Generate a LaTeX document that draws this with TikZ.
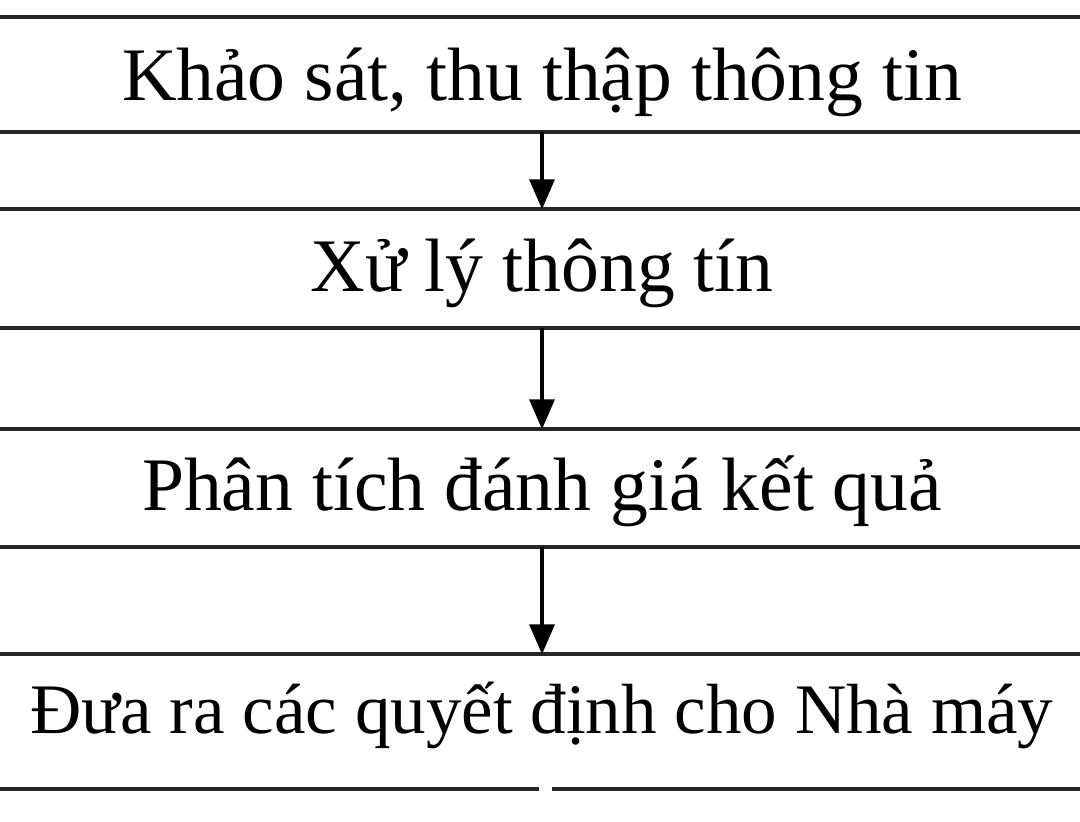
\documentclass[tikz,border=0pt]{standalone}
\usepackage{fontspec}
\setmainfont{Liberation Serif}
\usetikzlibrary{arrows.meta}
\begin{document}
\begin{tikzpicture}[x=0.01cm,y=-0.01cm, % one unit = one pixel of the reference
  stage/.style={minimum width=10.9cm, inner sep=0pt, text depth=0pt,
                font=\fontsize{21.5}{25}\selectfont},
  rule/.style={draw=black!85, line width=1.1pt},
  flow/.style={draw=black, line width=1pt, -{Triangle[length=0.3cm,width=0.25cm]}}]
\useasboundingbox (0,0) rectangle (1080,821);

% the four stages, top to bottom
\node[stage, minimum height=1.13cm, text height=0.51cm] (khaosat)   at (542,74.5)  {Khảo sát, thu thập thông tin};
\node[stage, minimum height=1.17cm, text height=0.45cm] (xuly)      at (542,268.5) {Xử lý thông tín};
\node[stage, minimum height=1.16cm, text height=0.44cm] (phantich)  at (542,488)   {Phân tích đánh giá kết quả};
\node[stage, minimum height=1.33cm, text height=0.23cm,
      font=\fontsize{20.2}{24}\selectfont] (quyetdinh) at (542,721.5) {Đưa ra các quyết định cho Nhà máy};

% top and bottom rules of each stage
\foreach \s in {khaosat, xuly, phantich}
{
\draw [rule] (\s.north west) -- (\s.north east);
\draw [rule] (\s.south west) -- (\s.south east);
}
\draw [rule] (quyetdinh.north west) -- (quyetdinh.north east);
\draw [rule] (quyetdinh.south west) -- ([xshift=-0.03cm]quyetdinh.south); % small gap in the last rule
\draw [rule] ([xshift=0.1cm]quyetdinh.south) -- (quyetdinh.south east);

% arrows between the stages
\draw [flow] (khaosat.south) -- (xuly.north);
\draw [flow] (xuly.south) -- (phantich.north);
\draw [flow] (phantich.south) -- (quyetdinh.north);
\end{tikzpicture}
\end{document}
